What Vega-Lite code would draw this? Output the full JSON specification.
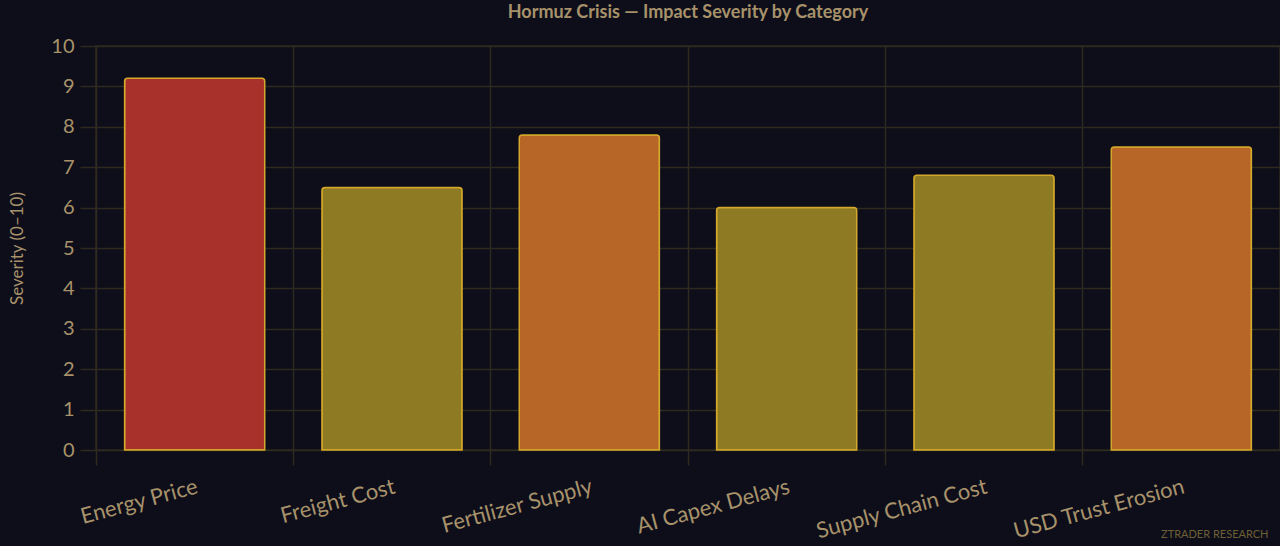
{
  "$schema": "https://vega.github.io/schema/vega-lite/v6.json",
  "autosize": {"type": "none"},
  "width": 1184,
  "height": 404,
  "padding": {"left": 96, "top": 46, "right": 0, "bottom": 96},
  "background": "#0d0e1a",
  "title": {
    "text": "Hormuz Crisis — Impact Severity by Category",
    "anchor": "middle",
    "frame": "group",
    "offset": 14,
    "font": "Lato",
    "fontSize": 18,
    "fontWeight": "bold",
    "color": "#a8926a"
  },
  "config": {
    "view": {"stroke": "#2f2a1f", "strokeWidth": 1.5},
    "axis": {
      "gridColor": "#2f2a1f",
      "gridWidth": 1.5,
      "tickColor": "#2f2a1f",
      "tickWidth": 1.5,
      "domain": false,
      "labelFont": "Lato",
      "labelColor": "#a8926a",
      "titleFont": "Lato",
      "titleColor": "#a8926a",
      "titleFontWeight": "normal"
    }
  },
  "data": {
    "values": [
      {"category": "Energy Price", "severity": 9.2},
      {"category": "Freight Cost", "severity": 6.5},
      {"category": "Fertilizer Supply", "severity": 7.8},
      {"category": "AI Capex Delays", "severity": 6.0},
      {"category": "Supply Chain Cost", "severity": 6.8},
      {"category": "USD Trust Erosion", "severity": 7.5}
    ]
  },
  "mark": {
    "type": "bar",
    "width": {"band": 0.71},
    "stroke": "#d4a82a",
    "strokeWidth": 1.5,
    "cornerRadiusTopLeft": 3,
    "cornerRadiusTopRight": 3
  },
  "encoding": {
    "x": {
      "field": "category",
      "type": "nominal",
      "sort": null,
      "scale": {"paddingInner": 0, "paddingOuter": 0},
      "axis": {
        "title": "ZTRADER RESEARCH",
        "titleFontSize": 11,
        "titleColor": "#6e5f35",
        "titleAnchor": "end",
        "titleAlign": "right",
        "titleBaseline": "middle",
        "titleX": 1172,
        "titleY": 84,
        "bandPosition": 0,
        "grid": true,
        "tickSize": 15,
        "labelAngle": -15,
        "labelAlign": "right",
        "labelBaseline": "top",
        "labelFontSize": 22,
        "labelPadding": 11
      }
    },
    "y": {
      "field": "severity",
      "type": "quantitative",
      "scale": {"domain": [0, 10]},
      "axis": {
        "title": "Severity (0–10)",
        "titleFontSize": 17,
        "titlePadding": 24,
        "tickCount": 10,
        "tickSize": 16,
        "labelFontSize": 20,
        "labelPadding": 6
      }
    },
    "color": {
      "field": "severity",
      "type": "quantitative",
      "scale": {"type": "threshold", "domain": [7, 9], "range": ["#8f7a24", "#b86528", "#a8322b"]},
      "legend": null
    }
  }
}
